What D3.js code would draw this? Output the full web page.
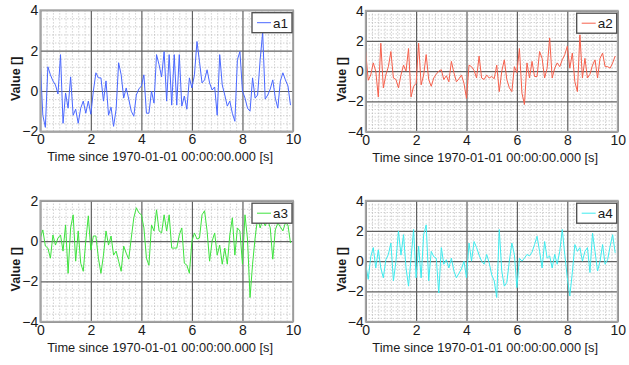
<!DOCTYPE html>
<html>
<head>
<meta charset="utf-8">
<script src="https://cdnjs.cloudflare.com/ajax/libs/d3/7.8.5/d3.min.js"></script>
<style>
body { margin: 0; background: #fff; }
svg text { font-family: "Liberation Sans", Arial, sans-serif; fill: #1a1a1a; }
</style>
</head>
<body>
<div id="chart"></div>
<script>
// sample step of every series (s)
var dt = 0.1;

var a1 = [1.4, -1.2, -1.8, 1.2, 0.8, 0.5, 0.3, -0.15, 1.8, -1.6,
    -0.1, -0.85, 0.7, -1.2, -0.9, -1.6, -0.85, -0.5, -1.1, -0.5,
    -1.15, 0, 0.9, 0.65, 0.65, -0.5, 0.5, -1.2, -0.8, -1.75,
    -0.9, 1.4, 0.8, -0.35, 0.15, -0.4, -1.0, -1.25, -0.2, 0.1,
    0.25, 0.8, -1.1, -1.1, 0, -0.6, 1.8, 1.3, 0.7, 1.95,
    -0.5, 1.8, -0.7, 1.8, -0.7, 1.8, -0.75, -0.25, -0.9, 0.65,
    0.15, 0.8, 2.45, 1.45, 0.4, 0.55, 1.05, 0.4, 0.05, 0.2,
    -1.2, 1.8, 0.3, -0.2, -0.75, -0.5, -1.1, -1.5, 1.55, 1.95,
    0, -0.35, -0.85, -1.0, 0.65, -0.35, -0.2, 1.55, 2.9, -0.4,
    -0.2, 0.1, 0.55, -0.35, -0.85, 0.5, 0.9, 0.55, 0.25, -0.7];

var a2 = [1.3, -0.6, -0.25, 0.55, 0, -1.7, 1.85, -1.1, -0.25, 0.3,
    1.3, -0.45, -0.55, -1.1, -0.25, 0.4, 0, 1.5, -1.7, -1.0,
    -0.8, 1.85, -0.9, -0.25, 1.1, -0.55, -1.0, -0.45, -0.2, 0,
    0.1, -0.55, -0.3, -0.7, 0.65, -0.1, -0.7, -0.5, -0.25, -0.8,
    -1.8, 0.4, 0.3, 0.05, -0.45, 1.0, -0.45, -0.55, -0.25, -0.45,
    -0.35, -0.5, 0.4, -1.35, 0, 0.75, -0.55, -1.1, -1.35, 0.3,
    -0.1, 1.5, -1.45, -2.2, 0.55, -0.45, 0.65, -0.35, -0.35, 1.3,
    0.85, -0.45, 0.2, 2.2, -0.45, 0.2, 0.55, 0.3, 0.75, 1.1,
    1.65, 0.2, 1.2, -0.7, -1.35, 2.4, -0.45, 0.85, -0.45, -0.2,
    0.4, 0.75, -0.45, 0.85, 1.2, 0.3, 0.3, 0.2, 0.55, 1.0];

var a3 = [0.15, 0.55, -0.25, -0.35, -0.85, 0.3, -0.2, 0.15, 0.3, -0.5,
    0.8, -1.6, 0.65, 1.3, -1.0, 0.5, -1.1, -1.5, 0, 1.25,
    -0.45, 0.25, 0.25, -0.85, -1.6, -0.7, 0.5, -0.2, 0.25, -0.7,
    -0.5, -1.0, -1.5, -0.25, -0.6, -0.9, 0.15, 1.15, 1.65, 1.4,
    1.3, 0.65, -0.85, -1.2, 0.8, 0.5, 1.55, 0.5, 0.4, 1.3,
    0.5, 1.3, -0.35, -0.35, -0.35, 0.3, 0.65, -1.1, -1.2, -1.6,
    0, 0.4, 0.1, 0.15, 1.3, 1.5, 0.5, -1.0, 0, 0.4,
    -0.7, -0.2, -1.15, -0.35, -1.15, 0.3, 1.15, -0.7, 0.65, 0.5,
    -1.15, 1.3, 0.1, -2.8, -1.15, 0.15, 1.15, 0.65, 1.05, 0.75,
    1.05, 0.65, -0.9, 0.55, 0.9, 0.7, 0.5, 0.9, 0.8, -0.1];

var a4 = [-0.2, -1.2, 0.3, 0.9, -0.45, 0.75, -0.45, -1.1, 0.1, 0.45,
    1.2, -1.3, 0, 2.0, 0.4, 1.75, -0.45, -1.65, 0.2, 2.1,
    -1.1, 1.0, -1.1, 1.75, 2.4, -1.3, 0.65, 0.3, 0.2, -2.1,
    0.9, -0.2, 0.1, -0.45, 0.2, -0.65, -1.1, -0.8, -0.5, 0,
    -1.1, 1.2, 0, 1.3, 0.9, 0.4, 0, -0.2, 0.45, -0.1,
    -0.9, -1.3, -2.4, 2.1, -0.65, -1.65, -1.4, 0, 1.2, 0.45,
    -1.75, 0.2, 0, 0.2, 0.45, 0.35, 0.6, 1.1, 1.65, 0.65,
    -0.45, 1.3, 0.2, 0.35, -0.45, 0.45, -0.2, 0.65, 2.1, 0.45,
    -1.1, -2.3, -0.75, 1.1, 0.65, 0.9, 0, 0.65, 0.9, -0.75,
    1.85, 0.65, -0.65, 0, 1.1, -0.2, 0.1, 1.0, 1.75, 0.55];

var seriesNames = ["a1", "a2", "a3", "a4"];
var xTicks = [0, 2, 4, 6, 8, 10];
var yTicksA1 = [-2, 0, 2, 4];
var yTicksA3 = [-4, -2, 0, 2];
var yTicksWide = [-4, -2, 0, 2, 4];
var xLabel = "Time since 1970-01-01 00:00:00.000 [s]";
var yLabel = "Value []";

var W = 629, H = 365;

var svg = d3.select("#chart").append("svg")
    .attr("width", W)
    .attr("height", H);

var panels = [
    {data: a1, color: "#4a68ff", yTicks: yTicksA1, minorY: 0.4, left: 40.3, right: 293, top: 10.2, bottom: 131.4},
    {data: a2, color: "#f6604c", yTicks: yTicksWide, minorY: 0.25, left: 365.7, right: 617.7, top: 10.7, bottom: 131.7},
    {data: a3, color: "#3ee23e", yTicks: yTicksA3, minorY: 0.4, left: 40.3, right: 293, top: 200.7, bottom: 321.7},
    {data: a4, color: "#3febee", yTicks: yTicksWide, minorY: 0.25, left: 365.7, right: 617.7, top: 200.7, bottom: 321.7}
];

function notMajor(v) {
    return Math.abs(v / 2 - Math.round(v / 2)) > 1e-6;
}

function drawPanel(p, idx) {
    var yMin = p.yTicks[0], yMax = p.yTicks[p.yTicks.length - 1];
    var x = d3.scaleLinear().domain([xTicks[0], xTicks[xTicks.length - 1]]).range([p.left, p.right]);
    var y = d3.scaleLinear().domain([yMin, yMax]).range([p.bottom, p.top]);
    var w = p.right - p.left, h = p.bottom - p.top;
    var g = svg.append("g");

    var minorX = d3.range(0, 10.001, 0.25).filter(notMajor);
    var minorY = d3.range(yMin, yMax + 0.001, p.minorY).filter(notMajor);

    // minor grid (dotted)
    g.append("g").attr("class", "minor")
        .attr("transform", "translate(0," + p.bottom + ")")
        .call(d3.axisBottom(x).tickValues(minorX).tickSize(-h).tickFormat(""));
    g.append("g").attr("class", "minor")
        .attr("transform", "translate(" + p.left + ",0)")
        .call(d3.axisLeft(y).tickValues(minorY).tickSize(-w).tickFormat(""));
    g.selectAll(".minor .domain").remove();
    g.selectAll(".minor line")
        .attr("stroke", "#b4b4b4")
        .attr("stroke-width", 0.9)
        .attr("stroke-dasharray", "1,2");

    // major grid
    g.append("g").attr("class", "major")
        .attr("transform", "translate(0," + p.bottom + ")")
        .call(d3.axisBottom(x).tickValues(xTicks).tickSize(-h).tickFormat(""));
    g.append("g").attr("class", "major")
        .attr("transform", "translate(" + p.left + ",0)")
        .call(d3.axisLeft(y).tickValues(p.yTicks).tickSize(-w).tickFormat(""));
    g.selectAll(".major .domain").remove();
    g.selectAll(".major line")
        .attr("stroke", "#606060")
        .attr("stroke-width", 1.2);

    // data line
    var clipId = "clip" + idx;
    svg.append("clipPath").attr("id", clipId)
        .append("rect").attr("x", p.left).attr("y", p.top).attr("width", w).attr("height", h);
    var line = d3.line()
        .x(function (d, i) { return x(i * dt); })
        .y(function (d) { return y(d); });
    g.append("path")
        .datum(p.data)
        .attr("clip-path", "url(#" + clipId + ")")
        .attr("fill", "none")
        .attr("stroke", p.color)
        .attr("stroke-width", 1)
        .attr("d", line);

    // box
    g.append("rect")
        .attr("x", p.left).attr("y", p.top)
        .attr("width", w).attr("height", h)
        .attr("fill", "none")
        .attr("stroke", "#a4a4a4")
        .attr("stroke-width", 1.8);

    // tick labels
    var fmt = d3.format("d");
    var xa = g.append("g")
        .attr("transform", "translate(0," + p.bottom + ")")
        .call(d3.axisBottom(x).tickValues(xTicks).tickFormat(fmt).tickSize(0).tickPadding(3));
    var ya = g.append("g")
        .attr("transform", "translate(" + p.left + ",0)")
        .call(d3.axisLeft(y).tickValues(p.yTicks).tickFormat(fmt).tickSize(0).tickPadding(2));
    xa.select(".domain").remove();
    ya.select(".domain").remove();
    g.selectAll(".tick text")
        .attr("font-size", 14)
        .attr("fill", "#1a1a1a")
        .style("font-family", "'Liberation Sans', Arial, sans-serif");

    // axis labels
    g.append("text")
        .attr("x", (p.left + p.right) / 2 - 6.5)
        .attr("y", p.bottom + 30)
        .attr("text-anchor", "middle")
        .attr("font-size", 12.8)
        .text(xLabel);
    g.append("text")
        .attr("transform", "translate(" + (p.left - 20) + "," + ((p.top + p.bottom) / 2 + 8) + ") rotate(-90)")
        .attr("text-anchor", "middle")
        .attr("font-size", 12.5)
        .attr("font-weight", "bold")
        .text(yLabel);

    // legend
    var lg = g.append("g").attr("transform", "translate(" + (p.right - 41) + "," + (p.top + 2.5) + ")");
    lg.append("rect")
        .attr("width", 40).attr("height", 20)
        .attr("fill", "#fff")
        .attr("stroke", "#4a4a4a")
        .attr("stroke-width", 1.3);
    lg.append("line")
        .attr("x1", 5).attr("x2", 19)
        .attr("y1", 10).attr("y2", 10)
        .attr("stroke", p.color)
        .attr("stroke-width", 1);
    lg.append("text")
        .attr("x", 21).attr("y", 15)
        .attr("font-size", 13.5)
        .text(seriesNames[idx]);
}

panels.forEach(drawPanel);
</script>
</body>
</html>
